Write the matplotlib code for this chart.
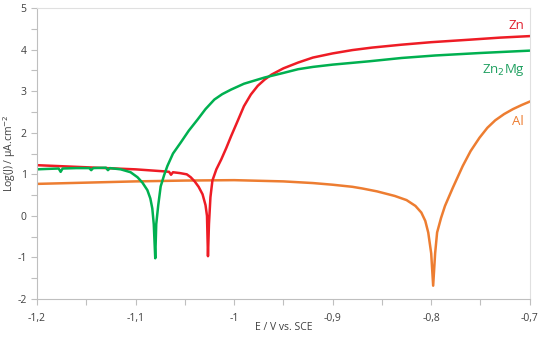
import matplotlib
matplotlib.use("Agg")
import matplotlib.pyplot as plt
from matplotlib.ticker import MultipleLocator, FuncFormatter

# Courbes de polarisation (E en V vs. SCE, log J)
e_zn = [-1.2, -1.15, -1.1, -1.07, -1.066, -1.064, -1.062, -1.055, -1.048, -1.044,
        -1.04, -1.036, -1.032, -1.029, -1.0275, -1.0265, -1.0255, -1.024, -1.022,
        -1.018, -1.013, -1.008, -1.003, -0.997, -0.99, -0.983, -0.976, -0.969,
        -0.962, -0.95, -0.935, -0.92, -0.90, -0.88, -0.86, -0.83, -0.80, -0.761,
        -0.73, -0.697]
logj_zn = [1.22, 1.17, 1.12, 1.07, 1.06, 0.99, 1.05, 1.03, 1.0, 0.93,
           0.83, 0.70, 0.52, 0.26, 0.0, -0.97, -0.2, 0.45, 0.85,
           1.12, 1.36, 1.63, 1.92, 2.25, 2.64, 2.92, 3.13, 3.28,
           3.40, 3.55, 3.69, 3.81, 3.91, 3.99, 4.05, 4.12, 4.18, 4.24,
           4.29, 4.33]

e_zn2mg = [-1.2, -1.19, -1.178, -1.176, -1.174, -1.16, -1.147, -1.145, -1.143, -1.13,
           -1.128, -1.126, -1.115, -1.105, -1.098, -1.093, -1.088, -1.085, -1.083,
           -1.0815, -1.08, -1.079, -1.077, -1.0745, -1.071, -1.0677, -1.062, -1.054,
           -1.046, -1.037, -1.029, -1.02, -1.012, -1.003, -0.99, -0.969, -0.95,
           -0.935, -0.92, -0.90, -0.863, -0.83, -0.796, -0.75, -0.697]
logj_zn2mg = [1.12, 1.13, 1.14, 1.06, 1.14, 1.15, 1.15, 1.10, 1.15, 1.16,
              1.10, 1.15, 1.12, 1.05, 0.93, 0.80, 0.62, 0.42, 0.18,
              -0.2, -1.02, -0.2, 0.25, 0.71, 0.98, 1.2, 1.5, 1.77,
              2.05, 2.32, 2.57, 2.8, 2.93, 3.04, 3.18, 3.33, 3.44,
              3.53, 3.585, 3.64, 3.72, 3.80, 3.86, 3.92, 3.98]

e_al = [-1.2, -1.15, -1.1, -1.05, -1.0, -0.95, -0.92, -0.9, -0.88, -0.87,
        -0.855, -0.837, -0.825, -0.816, -0.81, -0.806, -0.803, -0.8, -0.798, -0.796,
        -0.794, -0.79, -0.786, -0.778, -0.768, -0.76, -0.751, -0.743, -0.735,
        -0.726, -0.717, -0.708, -0.699]
logj_al = [0.77, 0.80, 0.83, 0.85, 0.86, 0.83, 0.79, 0.75, 0.70, 0.66,
           0.59, 0.48, 0.38, 0.24, 0.08, -0.12, -0.40, -0.9, -1.68, -0.9,
           -0.40, -0.05, 0.24, 0.68, 1.2, 1.56, 1.88, 2.12, 2.30,
           2.45, 2.57, 2.67, 2.76]

rouge = "#EE1C25"
vert = "#00B050"
orange = "#ED7D31"
gris = "#BFBFBF"

plt.rcParams["font.family"] = ["Open Sans", "DejaVu Sans"]

fig = plt.figure(figsize=(5.4, 3.38), dpi=100)
ax = fig.add_axes([0.0685, 0.1154, 0.9125, 0.8606])

ax.plot(e_al, logj_al, color=orange, lw=1.8)
ax.plot(e_zn, logj_zn, color=rouge, lw=1.8)
ax.plot(e_zn2mg, logj_zn2mg, color=vert, lw=1.8)

ax.set_xlim(-1.2, -0.7)
ax.set_ylim(-2, 5)
ax.xaxis.set_major_locator(MultipleLocator(0.1))
ax.xaxis.set_minor_locator(MultipleLocator(0.05))
ax.yaxis.set_major_locator(MultipleLocator(1))
ax.yaxis.set_minor_locator(MultipleLocator(0.5))
ax.xaxis.set_major_formatter(FuncFormatter(lambda v, p: ("%g" % round(v, 2)).replace(".", ",")))
ax.yaxis.set_major_formatter(FuncFormatter(lambda v, p: "%d" % round(v)))

for s in ["left", "bottom"]:
    ax.spines[s].set_color(gris)
for s in ["top", "right"]:
    ax.spines[s].set_color("#E0E0E0")
ax.tick_params(which="both", color=gris, labelcolor="#404040", labelsize=7.5, length=4, width=0.8)
ax.tick_params(axis="x", pad=6)

ax.set_xlabel("E / V vs. SCE", fontsize=7.5, color="#404040", labelpad=-1)
ax.set_ylabel("Log(J) / µA.cm$^{-2}$", fontsize=7.5, color="#404040")
ax.yaxis.set_label_coords(-0.038, 0.5)

ax.text(-0.705, 4.58, "Zn", color="#E0202F", fontsize=9.5, ha="right", va="center")
ax.text(-0.705, 3.5, "Zn$_2$Mg", color="#1FA060", fontsize=9.5, ha="right", va="center")
ax.text(-0.706, 2.27, "Al", color=orange, fontsize=9.5, ha="right", va="center")

fig.savefig("out.png", dpi=100)
